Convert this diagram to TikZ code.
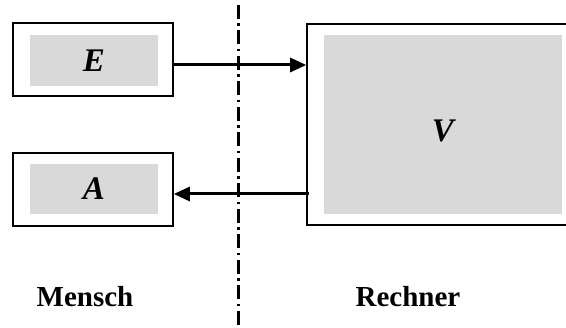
\documentclass[tikz,border=0pt]{standalone}
\usepackage{fontspec}
\setmainfont{Liberation Serif}
\usetikzlibrary{arrows.meta}

\tikzset{
  outerbox/.style={draw,line width=1.6pt,inner sep=0pt,anchor=center},
  innerbox/.style={fill=boxgray,inner sep=0pt,anchor=center},
  conn/.style={line width=3pt,-{Triangle[length=16pt,width=14pt]}},
  letter/.style={font=\fontsize{33}{36}\selectfont\bfseries\itshape},
  side/.style={font=\fontsize{29}{34}\selectfont\bfseries}
}
\definecolor{boxgray}{HTML}{D9D9D9}

\begin{document}
\begin{tikzpicture}[x=1pt,y=-1pt] % Mensch / Rechner
       \useasboundingbox (0,0) rectangle (566,328);
       % boxes
       \node[outerbox,minimum width=160pt,minimum height=73pt] (Eout) at (93,59.5) {};
       \node[innerbox,minimum width=128pt,minimum height=51pt] (Ein) at (94,60.5) {};
       \node[outerbox,minimum width=160pt,minimum height=73pt] (Aout) at (93,189.5) {};
       \node[innerbox,minimum width=128pt,minimum height=50pt] (Ain) at (94,189) {};
       \node[outerbox,minimum width=273pt,minimum height=201pt] (Vout) at (443.5,124.5) {};
       \node[innerbox,minimum width=238pt,minimum height=179pt] (Vin) at (443,124.5) {};
       \node[letter] (E) at (Ein) {E};
       \node[letter] (A) at (Ain) {A};
       \node[letter] (V) at (443,131) {V};
       % dividing line
       \coordinate (ltop) at (238,5);
       \coordinate (lbot) at (238,328);
       \draw[line width=3pt,dash pattern=on 14pt off 4.5pt on 2.5pt off 4.5pt] (ltop) -- (lbot);
       % connectors
       \coordinate (eout) at ([yshift=-5.5pt]Eout.east);
       \coordinate (ain) at ([yshift=-4.5pt]Aout.east);
       \coordinate (vleft) at (ain -| Vout.west);
       \draw[conn] (eout) -- (eout -| Vout.west);
       \draw[conn] ([xshift=3pt]vleft) -- (ain);
       % sides
       \node[side] (mensch) at (85,297) {Mensch};
       \node[side] (rechner) at (408,297) {Rechner};
   \end{tikzpicture}
\end{document}
